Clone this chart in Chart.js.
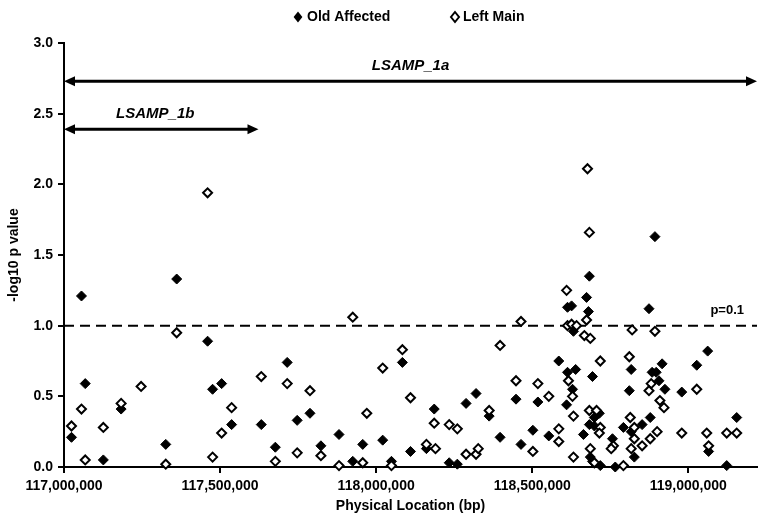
<!DOCTYPE html>
<html>
<head>
<meta charset="utf-8">
<script src="https://cdn.jsdelivr.net/npm/chart.js@4/dist/chart.umd.min.js"></script>
<style>
  html, body { margin: 0; padding: 0; background: #fff; }
</style>
</head>
<body>
<canvas id="snpChart" width="769" height="522"></canvas>
<script>
// Vị trí (bp) và giá trị -log10 p của từng nhóm
const oldAffectedPos = [
  117024000, 117056000, 117068000, 117126000, 117183000, 117326000, 117361000, 117460000,
  117476000, 117505000, 117537000, 117632000, 117677000, 117715000, 117747000, 117788000,
  117823000, 117881000, 117925000, 117957000, 118021000, 118049000, 118084000, 118110000,
  118161000, 118186000, 118234000, 118260000, 118288000, 118320000, 118362000, 118397000,
  118448000, 118464000, 118502000, 118518000, 118553000, 118585000, 118613000, 118613000,
  118610000, 118683000, 118674000, 118626000, 118680000, 118632000, 118639000, 118693000,
  118629000, 118817000, 118811000, 118878000, 118852000, 118792000, 118817000, 118664000,
  118683000, 118699000, 118715000, 118699000, 118757000, 118827000, 118686000, 118693000,
  118718000, 118766000, 118893000, 118874000, 119062000, 119027000, 118916000, 118897000,
  118884000, 118906000, 118925000, 118979000, 119155000, 119065000, 119123000
];
const oldAffectedVal = [
  0.21, 1.21, 0.59, 0.05, 0.41, 0.16, 1.33, 0.89,
  0.55, 0.59, 0.30, 0.30, 0.14, 0.74, 0.33, 0.38,
  0.15, 0.23, 0.04, 0.16, 0.19, 0.04, 0.74, 0.11,
  0.13, 0.41, 0.03, 0.02, 0.45, 0.52, 0.36, 0.21,
  0.48, 0.16, 0.26, 0.46, 0.22, 0.75, 1.13, 0.67,
  0.44, 1.35, 1.20, 1.14, 1.10, 0.96, 0.69, 0.64,
  0.55, 0.69, 0.54, 0.35, 0.30, 0.28, 0.25, 0.23,
  0.30, 0.29, 0.38, 0.35, 0.20, 0.07, 0.07, 0.04,
  0.01, 0.00, 1.63, 1.12, 0.82, 0.72, 0.73, 0.67,
  0.67, 0.61, 0.55, 0.53, 0.35, 0.11, 0.01
];
const leftMainPos = [
  117024000, 117056000, 117068000, 117126000, 117183000, 117247000, 117326000, 117361000,
  117460000, 117476000, 117505000, 117537000, 117632000, 117677000, 117715000, 117747000,
  117788000, 117823000, 117881000, 117925000, 117957000, 117970000, 118021000, 118049000,
  118084000, 118110000, 118161000, 118186000, 118190000, 118234000, 118260000, 118288000,
  118320000, 118327000, 118362000, 118397000, 118448000, 118464000, 118502000, 118518000,
  118553000, 118585000, 118585000, 118610000, 118613000, 118616000, 118677000, 118683000,
  118674000, 118626000, 118642000, 118667000, 118686000, 118820000, 118893000, 118718000,
  118811000, 118629000, 118881000, 118874000, 118909000, 118632000, 118683000, 118706000,
  118814000, 118827000, 118718000, 118715000, 118827000, 118900000, 118878000, 118852000,
  118760000, 118753000, 118817000, 118686000, 118632000, 118699000, 118792000, 118922000,
  119027000, 118979000, 119059000, 119123000, 119155000, 119065000
];
const leftMainVal = [
  0.29, 0.41, 0.05, 0.28, 0.45, 0.57, 0.02, 0.95,
  1.94, 0.07, 0.24, 0.42, 0.64, 0.04, 0.59, 0.10,
  0.54, 0.08, 0.01, 1.06, 0.03, 0.38, 0.70, 0.01,
  0.83, 0.49, 0.16, 0.31, 0.13, 0.30, 0.27, 0.09,
  0.09, 0.13, 0.40, 0.86, 0.61, 1.03, 0.11, 0.59,
  0.50, 0.27, 0.18, 1.25, 1.00, 0.61, 2.11, 1.66,
  1.04, 1.01, 1.00, 0.93, 0.91, 0.97, 0.96, 0.75,
  0.78, 0.50, 0.59, 0.54, 0.47, 0.36, 0.40, 0.40,
  0.35, 0.28, 0.28, 0.24, 0.20, 0.25, 0.20, 0.15,
  0.15, 0.13, 0.13, 0.13, 0.07, 0.03, 0.01, 0.42,
  0.55, 0.24, 0.24, 0.24, 0.24, 0.15
];

// Trục và chú thích
const X_MIN = 117000000;
const X_MAX = 119220000;
const xTickValues = [117000000, 117500000, 118000000, 118500000, 119000000];
const yTickValues = [0, 0.5, 1, 1.5, 2, 2.5, 3];

const geneNames = ['LSAMP_1a', 'LSAMP_1b'];
const geneStart = [117000000, 117000000];
const geneEnd = [X_MAX, 117623000];
const geneLevel = [2.73, 2.39];

const thresholdLevel = 1.0;
const thresholdLabel = 'p=0.1';

const FONT = "'Liberation Sans', Arial, sans-serif";

function arrowHead(ctx, x, y, dir) {
  ctx.beginPath();
  ctx.moveTo(x, y);
  ctx.lineTo(x - dir * 11, y - 5);
  ctx.lineTo(x - dir * 11, y + 5);
  ctx.closePath();
  ctx.fill();
}

function diamond(ctx, x, y, r, filled) {
  ctx.beginPath();
  ctx.moveTo(x, y - r);
  ctx.lineTo(x + r * 0.8, y);
  ctx.lineTo(x, y + r);
  ctx.lineTo(x - r * 0.8, y);
  ctx.closePath();
  if (filled) { ctx.fillStyle = '#000'; ctx.fill(); }
  else { ctx.fillStyle = '#fff'; ctx.fill(); ctx.lineWidth = 2; ctx.strokeStyle = '#000'; ctx.stroke(); }
}

// Vẽ đường ngưỡng, mũi tên gen và chú thích
const annotations = {
  id: 'annotations',
  beforeDatasetsDraw(chart) {
    const { ctx, chartArea, scales: { x, y } } = chart;
    ctx.save();
    ctx.strokeStyle = '#000';
    ctx.fillStyle = '#000';

    const ty = y.getPixelForValue(thresholdLevel);
    ctx.lineWidth = 2;
    ctx.setLineDash([10, 6]);
    ctx.beginPath();
    ctx.moveTo(chartArea.left, ty);
    ctx.lineTo(chartArea.right, ty);
    ctx.stroke();
    ctx.setLineDash([]);
    ctx.font = 'bold 13px ' + FONT;
    ctx.textAlign = 'right';
    ctx.textBaseline = 'bottom';
    ctx.fillText(thresholdLabel, chartArea.right - 13, ty - 9);

    geneNames.forEach((name, i) => {
      const x0 = x.getPixelForValue(geneStart[i]);
      const x1 = x.getPixelForValue(geneEnd[i]);
      const gy = y.getPixelForValue(geneLevel[i]);
      ctx.lineWidth = 3;
      ctx.beginPath();
      ctx.moveTo(x0 + 6, gy);
      ctx.lineTo(x1 - 6, gy);
      ctx.stroke();
      arrowHead(ctx, x0, gy, -1);
      arrowHead(ctx, x1, gy, 1);
      ctx.font = 'italic bold 15px ' + FONT;
      ctx.textAlign = 'center';
      ctx.textBaseline = 'bottom';
      ctx.fillText(name, (x0 + x1) / 2 - (i === 1 ? 6 : 0), gy - 8);
    });
    ctx.restore();
  },
  afterDraw(chart) {
    const ctx = chart.ctx;
    ctx.save();
    ctx.font = 'bold 14px ' + FONT;
    ctx.textAlign = 'left';
    ctx.textBaseline = 'middle';
    diamond(ctx, 298, 17, 5.5, true);
    ctx.fillStyle = '#000';
    ctx.fillText(chart.data.datasets[0].label, 307, 17);
    diamond(ctx, 455, 17, 5, false);
    ctx.fillStyle = '#000';
    ctx.fillText(chart.data.datasets[1].label, 463, 17);
    ctx.restore();
  }
};

const axisFont = { family: FONT, size: 14, weight: 'bold' };

new Chart(document.getElementById('snpChart'), {
  type: 'scatter',
  data: {
    datasets: [
      {
        label: 'Old Affected',
        data: oldAffectedPos.map((p, i) => ({ x: p, y: oldAffectedVal[i] })),
        pointStyle: 'rectRot',
        pointRadius: 5,
        backgroundColor: '#000',
        borderColor: '#000',
        borderWidth: 1,
        clip: false,
        order: 1
      },
      {
        label: 'Left Main',
        data: leftMainPos.map((p, i) => ({ x: p, y: leftMainVal[i] })),
        pointStyle: 'rectRot',
        pointRadius: 4.5,
        backgroundColor: '#fff',
        borderColor: '#000',
        borderWidth: 2,
        clip: false,
        order: 0
      }
    ]
  },
  options: {
    responsive: false,
    animation: false,
    devicePixelRatio: 1,
    layout: { padding: { top: 43, right: 12, bottom: 0, left: 0 } },
    plugins: {
      legend: { display: false },
      tooltip: { enabled: false }
    },
    scales: {
      x: {
        type: 'linear',
        min: X_MIN,
        max: X_MAX,
        afterFit(scale) { scale.height = 55; },
        afterBuildTicks(scale) {
          scale.ticks = xTickValues.map(v => ({ value: v }));
        },
        ticks: {
          autoSkip: false,
          maxRotation: 0,
          padding: 5,
          color: '#000',
          font: axisFont,
          callback: v => Math.round(v).toLocaleString('en-US')
        },
        grid: { drawOnChartArea: false, drawTicks: true, tickLength: 6, color: '#000', lineWidth: 2 },
        border: { display: true, color: '#000', width: 2 },
        title: { display: true, text: 'Physical Location (bp)', color: '#000', font: axisFont, padding: { top: 2, bottom: 7 } }
      },
      y: {
        min: 0,
        max: 3,
        afterFit(scale) { scale.width = 64; },
        afterBuildTicks(scale) {
          scale.ticks = yTickValues.map(v => ({ value: v }));
        },
        ticks: {
          padding: 5,
          color: '#000',
          font: axisFont,
          callback: v => v.toFixed(1)
        },
        grid: { drawOnChartArea: false, drawTicks: true, tickLength: 6, color: '#000', lineWidth: 2 },
        border: { display: true, color: '#000', width: 2 },
        title: { display: true, text: '-log10 p value', color: '#000', font: axisFont, padding: { top: 6, bottom: 2 } }
      }
    }
  },
  plugins: [annotations]
});
</script>
</body>
</html>
